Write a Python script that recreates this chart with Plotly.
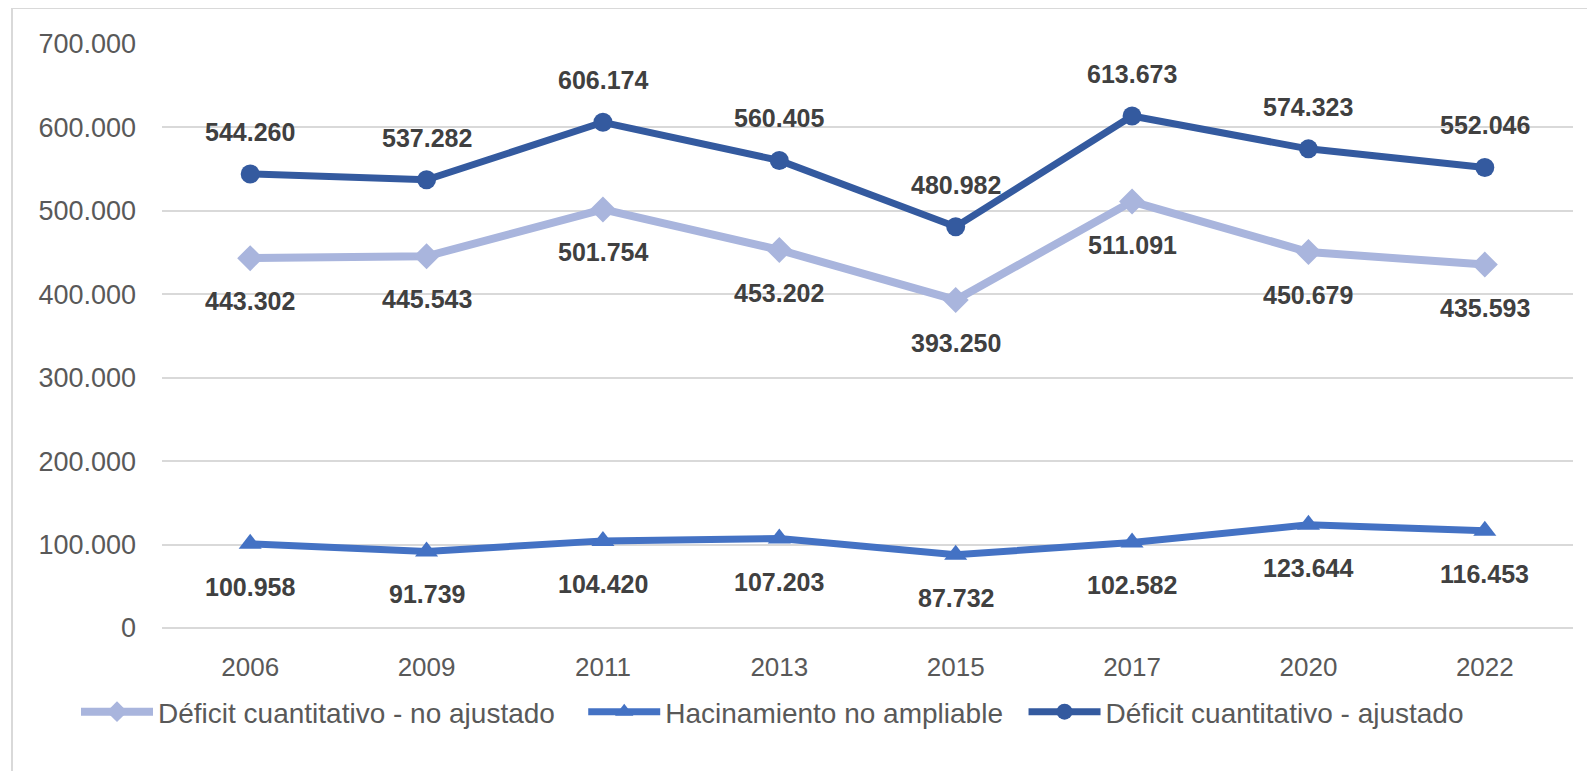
import plotly.graph_objects as go

years = ["2006", "2009", "2011", "2013", "2015", "2017", "2020", "2022"]
no_ajustado = [443302, 445543, 501754, 453202, 393250, 511091, 450679, 435593]
hacinamiento = [100958, 91739, 104420, 107203, 87732, 102582, 123644, 116453]
ajustado = [544260, 537282, 606174, 560405, 480982, 613673, 574323, 552046]

names = ["Déficit cuantitativo - no ajustado", "Hacinamiento no ampliable", "Déficit cuantitativo - ajustado"]
colors = ["#A9B5DD", "#4472C4", "#345A9F"]

# the page body has an 8px margin; figure is sized to fit inside the window
OFF = 8
W, H = 1595 - 2 * OFF, 779 - 2 * OFF
ML = 162 - OFF
MT = 44 - OFF
MR = W - (1573 - OFF)
MB = H - (628 - OFF)
PW, PH = W - ML - MR, H - MT - MB

def px_x(p):  # page pixel -> paper
    return (p - OFF - ML) / PW

def px_y(p):
    return 1 - (p - OFF - MT) / PH

def fmt(v):
    return f"{v:,}".replace(",", ".")

FONT = "Liberation Sans, Arial, sans-serif"
PAD3 = "\u00a0\u00a0\u00a0"
PAD2 = "\u00a0\u00a0"

fig = go.Figure()
series = [
    (no_ajustado, names[0] + PAD3, colors[0], "diamond", 8, 20, 43),
    (hacinamiento, names[1] + PAD2, colors[1], "triangle-up", 7, 20, 43),
    (ajustado, names[2], colors[2], "circle", 7, 19, -42),
]
for vals, name, col, sym, lw, ms, shift in series:
    fig.add_trace(go.Scatter(
        x=years, y=vals, name=name, mode="lines+markers",
        line=dict(color=col, width=lw),
        marker=dict(symbol=sym, size=ms, color=col),
    ))
    for i, yv in enumerate(vals):
        fig.add_annotation(x=i, y=yv, xref="x", yref="y", text="<b>" + fmt(yv) + "</b>",
                           showarrow=False, yshift=-shift,
                           font=dict(family=FONT, size=25, color="#404040"),
                           xanchor="center", yanchor="middle")

# outer chart border
fig.add_shape(type="rect", xref="paper", yref="paper",
              x0=px_x(12), x1=px_x(1700), y0=px_y(900), y1=px_y(8),
              line=dict(color="#D9D9D9", width=2), fillcolor="rgba(0,0,0,0)", layer="below")

fig.update_layout(
    width=W, height=H,
    margin=dict(l=ML, r=MR, t=MT, b=MB, autoexpand=False),
    paper_bgcolor="white", plot_bgcolor="white",
    separators=",.",
    font=dict(family=FONT, color="#595959"),
    showlegend=True,
    legend=dict(orientation="h", x=px_x(76), y=px_y(712), xanchor="left", yanchor="middle",
                font=dict(family=FONT, size=28, color="#595959"), bgcolor="rgba(0,0,0,0)",
                itemwidth=72),
    xaxis=dict(type="category", showgrid=False, showline=False, ticks="",
               tickfont=dict(family=FONT, size=26, color="#595959"), ticklabelstandoff=21,
               range=[-0.5, 7.5]),
    yaxis=dict(range=[0, 700000], dtick=100000, tickformat=",.0f",
               showgrid=True, gridcolor="#D9D9D9", gridwidth=2,
               zeroline=True, zerolinecolor="#D9D9D9", zerolinewidth=2,
               tickfont=dict(family=FONT, size=27, color="#595959"), ticklabelstandoff=25),
)

fig.write_html("out.html")
